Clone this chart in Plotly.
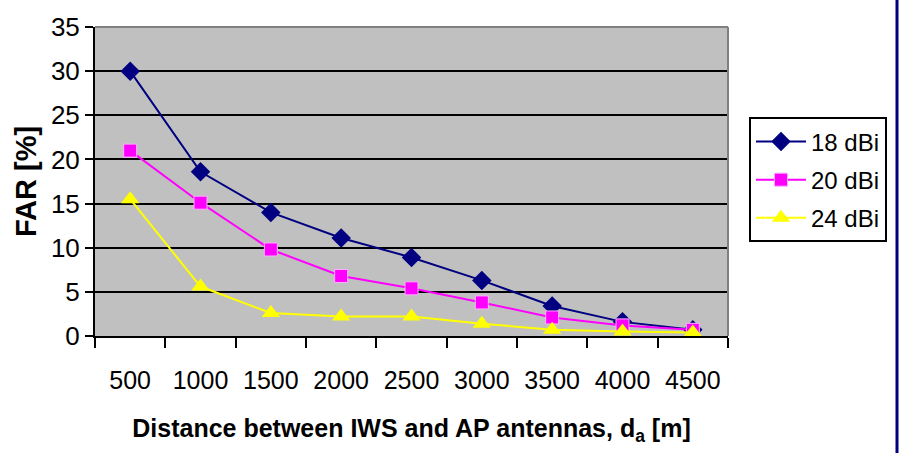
import plotly.graph_objects as go

categories = ["500", "1000", "1500", "2000", "2500", "3000", "3500", "4000", "4500"]
far_18 = [30.0, 18.6, 14.0, 11.1, 8.9, 6.3, 3.4, 1.6, 0.7]
far_20 = [21.0, 15.1, 9.8, 6.8, 5.4, 3.8, 2.1, 1.2, 0.7]
far_24 = [15.5, 5.6, 2.6, 2.2, 2.2, 1.4, 0.7, 0.5, 0.4]
series_names = ["18 dBi", "20 dBi", "24 dBi"]

W, H = 899, 453
L, R, T, B = 95, 728, 18, 336

fig = go.Figure()
fig.add_trace(go.Scatter(x=categories, y=far_18, name=series_names[0], mode="lines+markers",
                         legendgroup="a",
                         line=dict(color="#000080", width=2),
                         marker=dict(symbol="diamond", size=15, color="#000080")))
fig.add_trace(go.Scatter(x=categories, y=far_20, name=series_names[1], mode="lines+markers",
                         legendgroup="b",
                         line=dict(color="#FF00FF", width=2),
                         marker=dict(symbol="square", size=13, color="#FF00FF",
                                     line=dict(color="#FFB0FF", width=1))))
fig.add_trace(go.Scatter(x=categories, y=far_24, name=series_names[2], mode="lines+markers",
                         legendgroup="c",
                         line=dict(color="#FFFF00", width=2),
                         marker=dict(symbol="triangle-up", size=16, color="#FFFF00")))

px_w = R - L
px_h = B - T

def xp(px):
    return (px - L) / px_w

def yp(py):
    return (B - py) / px_h

shapes = [
    dict(type="line", xref="paper", yref="paper", x0=0, x1=1, y0=1, y1=1,
         line=dict(color="#808080", width=2), layer="above"),
    dict(type="line", xref="paper", yref="paper", x0=1, x1=1, y0=0, y1=1,
         line=dict(color="#808080", width=2), layer="above"),
    dict(type="line", xref="paper", yref="paper", x0=xp(897), x1=xp(897), y0=yp(H + 20), y1=yp(-20),
         line=dict(color="#000080", width=3)),
]

fig.update_layout(
    width=W, height=H,
    margin=dict(l=L, r=W - R, t=T, b=H - B),
    paper_bgcolor="white",
    plot_bgcolor="#C0C0C0",
    font=dict(family="Liberation Sans, Arial", color="black"),
    showlegend=True,
    legend=dict(x=xp(749), y=yp(111), xanchor="left", yanchor="top",
                bordercolor="black", borderwidth=2, bgcolor="white",
                tracegroupgap=4,
                font=dict(size=24, color="black"), itemwidth=50),
    shapes=shapes,
    xaxis=dict(type="category", categoryorder="array", categoryarray=categories,
               range=[-0.5, len(categories) - 0.5],
               showgrid=False, zeroline=False, showline=True, linecolor="black", linewidth=2,
               ticks="outside", tickson="boundaries", ticklen=10, tickwidth=2, tickcolor="black",
               ticklabelstandoff=21,
               tickfont=dict(size=25, color="black"),
               title=dict(text="<b>Distance between IWS and AP antennas, d<sub>a</sub> [m]</b>",
                          font=dict(size=25, color="black"), standoff=26)),
    yaxis=dict(range=[0, 35], dtick=5, tick0=0,
               showgrid=True, gridcolor="black", gridwidth=1.5,
               zeroline=False, showline=True, linecolor="black", linewidth=2,
               ticks="outside", ticklen=8, tickwidth=2, tickcolor="black",
               tickfont=dict(size=26, color="black"),
               title=dict(text="<b>FAR [%]</b>", font=dict(size=29, color="black"), standoff=6)),
)

fig.write_html("out.html")
